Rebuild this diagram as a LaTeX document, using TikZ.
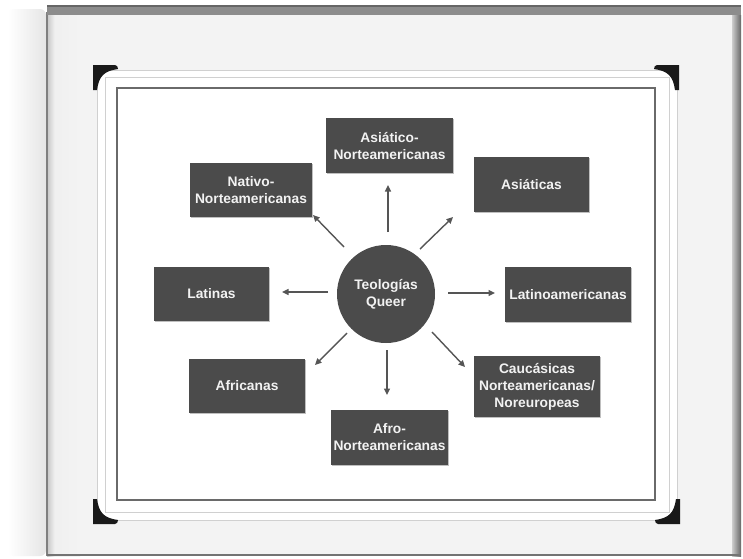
\documentclass[tikz,border=0pt]{standalone}
\usepackage{fontspec}
\setmainfont{Liberation Sans}
\usetikzlibrary{arrows.meta,shadows}
\definecolor{boxgray}{HTML}{4B4B4B}
\definecolor{txtgray}{HTML}{F2F2F2}
\definecolor{arrowgray}{HTML}{555555}
\definecolor{pagegray}{HTML}{F3F3F3}
\definecolor{edgegray}{HTML}{8C8C8C}
\definecolor{framegray}{HTML}{6A6A6A}
\definecolor{matline}{HTML}{D0D0D0}
\tikzset{
  catbox/.style={rectangle, fill=boxgray, text=txtgray, align=center, inner sep=0pt,
    font=\bfseries\fontsize{13.8}{17}\selectfont,
    drop shadow={shadow xshift=1pt, shadow yshift=-1pt, fill=black, opacity=0.25}},
  hub/.style={circle, fill=boxgray, text=txtgray, align=center, inner sep=0pt,
    minimum size=98pt, font=\bfseries\fontsize{13.8}{17}\selectfont},
  spoke/.style={draw=arrowgray, line width=1.4pt, -{Triangle[length=6.5pt,width=6pt]}},
  cornerpiece/.style={fill=black!90}
}
\begin{document}
\begin{tikzpicture}[x=1pt,y=-1pt]
\useasboundingbox (0,0) rectangle (743,558);
\fill[white] (0,0) rectangle (743,558);
% left page curl
\shade[left color=white, right color=black!10, rounded corners=6pt]
  (8,9) -- (46,9) -- (46,556) -- (8,556) -- cycle;
% page
\fill[pagegray] (47,12) rectangle (734,556);
\shade[left color=black!22, right color=pagegray] (47,12) rectangle (55,556);
\shade[left color=black!6, right color=pagegray] (55,12) rectangle (80,556);
\fill[black!50] (46,12) rectangle (48,556);
% top edge
\fill[edgegray] (47,6) rectangle (741,15);
\fill[black!60] (47,5) rectangle (741,7);
% right edge
\shade[left color=black!20, right color=black!60] (732,15) rectangle (741,556);
% bottom edge
\fill[black!55] (47,554) rectangle (741,556);
% mat
\filldraw[fill=white, draw=matline, line width=0.8pt] (97,70) rectangle (677,520);
\draw[matline, line width=0.8pt] (105,77) rectangle (669,512);
\filldraw[fill=white, draw=framegray, line width=2pt] (117,88) rectangle (655,500);
% corner pieces
\def\cornershape{(0,0) -- (22,0) to[out=0,in=90] (25,4) .. controls (11,6) and (6,11) .. (4,25) -- (0,25) -- cycle}
\fill[cornerpiece, shift={(93,65)}] \cornershape;
\fill[cornerpiece, shift={(679,65)}, xscale=-1] \cornershape;
\fill[cornerpiece, shift={(93,524)}, yscale=-1] \cornershape;
\fill[cornerpiece, shift={(680,524)}, xscale=-1, yscale=-1] \cornershape;
% nodes
\node[hub] (hub) at (386,294) {Teologías\\Queer};
\node[catbox, minimum width=127pt, minimum height=55pt] (asno) at (389.5,145.5) {Asiático-\\Norteamericanas};
\node[catbox, minimum width=122pt, minimum height=54pt] (nati) at (251,190) {Nativo-\\Norteamericanas};
\node[catbox, minimum width=115pt, minimum height=55pt] (asia) at (531.5,184.5) {Asiáticas};
\node[catbox, minimum width=115pt, minimum height=54pt] (lati) at (211.5,294) {Latinas};
\node[catbox, minimum width=126pt, minimum height=55pt] (lamr) at (568,294.5) {Latinoamericanas};
\node[catbox, minimum width=116pt, minimum height=54pt] (afri) at (247,386) {Africanas};
\node[catbox, minimum width=117pt, minimum height=55pt] (afro) at (389.5,437.5) {Afro-\\Norteamericanas};
\node[catbox, minimum width=126pt, minimum height=61pt] (cauc) at (537,386.5) {Caucásicas\\Norteamericanas/\\Noreuropeas};
% arrow endpoints
\coordinate (s1) at (388,232); \coordinate (e1) at (388,185);
\coordinate (s2) at (344,247); \coordinate (e2) at (313,215);
\coordinate (s3) at (420,249); \coordinate (e3) at (453,217);
\coordinate (s4) at (328,292); \coordinate (e4) at (282,292);
\coordinate (s5) at (448,293); \coordinate (e5) at (495,293);
\coordinate (s6) at (347,333); \coordinate (e6) at (315,365);
\coordinate (s7) at (432,332); \coordinate (e7) at (465,367);
\coordinate (s8) at (387,350); \coordinate (e8) at (387,395);
\foreach \i in {1,...,8} { \draw[spoke] (s\i) -- (e\i); }
\end{tikzpicture}
\end{document}
